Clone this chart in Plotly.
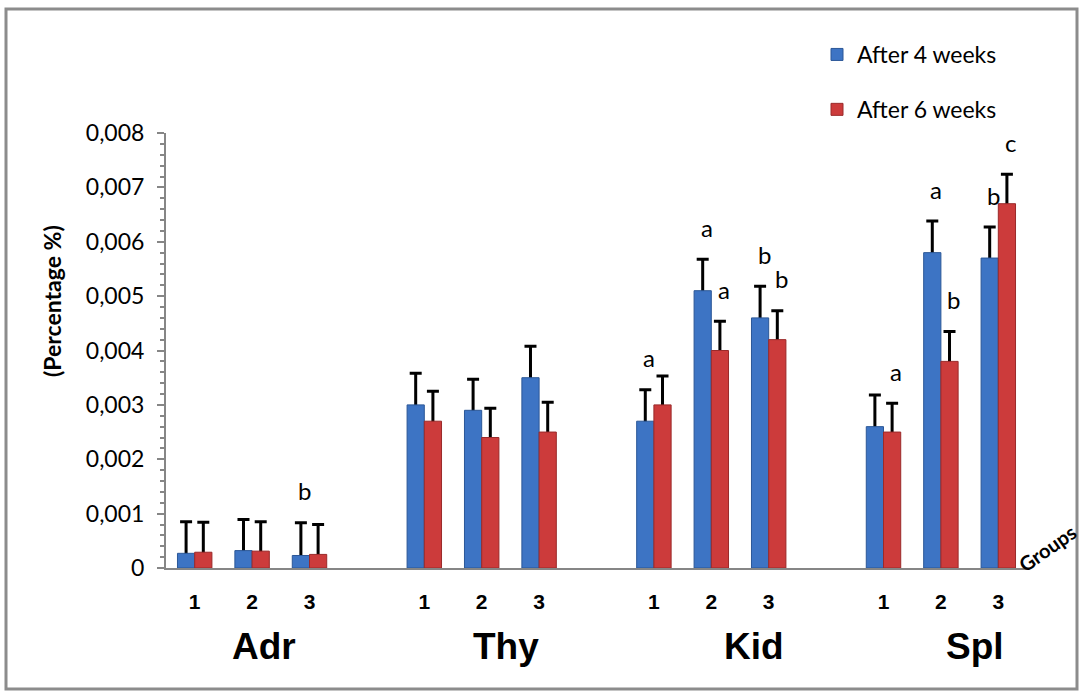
import plotly.graph_objects as go

# Relative organ weights (percentage of body weight) per group
organs = ["Adr", "Thy", "Kid", "Spl"]
groups = ["1", "2", "3"]

after_4_weeks = [0.00027, 0.00032, 0.00023,
                 0.0030, 0.0029, 0.0035,
                 0.0027, 0.0051, 0.0046,
                 0.0026, 0.0058, 0.0057]
after_6_weeks = [0.00029, 0.00031, 0.00025,
                 0.0027, 0.0024, 0.0025,
                 0.0030, 0.0040, 0.0042,
                 0.0025, 0.0038, 0.0067]
sd_4_weeks = [0.00058, 0.00057, 0.00060,
              0.00058, 0.00057, 0.00058,
              0.00058, 0.00058, 0.00058,
              0.00058, 0.00058, 0.00057]
sd_6_weeks = [0.00055, 0.00054, 0.00055,
              0.00055, 0.00054, 0.00055,
              0.00053, 0.00054, 0.00053,
              0.00053, 0.00055, 0.00054]

# significance letters
letters_4_weeks = ["", "", "b", "", "", "", "a", "a", "b", "", "a", "b"]
letters_6_weeks = ["", "", "", "", "", "", "", "a", "b", "a", "b", "c"]

y_tick_values = [0, 0.001, 0.002, 0.003, 0.004, 0.005, 0.006, 0.007, 0.008]
y_tick_labels = ["0", "0,001", "0,002", "0,003", "0,004", "0,005", "0,006", "0,007", "0,008"]

series_names = ["After 4 weeks", "After 6 weeks"]
series_colors = ["#3d74c4", "#cc3b3b"]
series_edges = ["#2b5797", "#9a2a2a"]

# page geometry helpers (plot area spans 166..1027 px horizontally, 133..568 px vertically)
W, H = 1084, 697
L, R, T, B = 166, 57, 133, 129
PW, PH = W - L - R, H - T - B


def px(x):
    return (x - L) / PW


def py(y):
    return (H - B - y) / PH


# category slots: one per organ/group, with a blank slot between organs
categories = []
real_categories = []
for i, organ in enumerate(organs):
    if i:
        categories.append(" " * i)
    for g in groups:
        name = f"{organ} {g}"
        categories.append(name)
        real_categories.append(name)


def spread(values):
    lookup = dict(zip(real_categories, values))
    return [lookup.get(c) for c in categories]


values = [after_4_weeks, after_6_weeks]
errors = [sd_4_weeks, sd_6_weeks]
letters = [letters_4_weeks, letters_6_weeks]

fig = go.Figure()

# error bars on the base axes, so the bars of the overlaid axes cover their lower half
for k in range(2):
    fig.add_trace(go.Bar(
        x=categories, y=spread(values[k]),
        marker=dict(color="rgba(0,0,0,0)", line=dict(width=0)),
        error_y=dict(type="data", symmetric=False,
                     array=spread(errors[k]), arrayminus=spread(values[k]),
                     color="black", thickness=3, width=6),
        showlegend=False, hoverinfo="skip", xaxis="x", yaxis="y",
    ))

# the bars themselves
for k in range(2):
    fig.add_trace(go.Bar(
        x=categories, y=spread(values[k]), name=series_names[k],
        legendgroup=series_names[k],
        marker=dict(color=series_colors[k], line=dict(color=series_edges[k], width=1)),
        xaxis="x2", yaxis="y2",
    ))

annotations = []

# significance letters above the error bars
for k in range(2):
    shift = (-8.6 if k == 0 else 8.6) + 4
    for cat, v, e, letter in zip(real_categories, values[k], errors[k], letters[k]):
        if not letter:
            continue
        annotations.append(dict(
            x=cat, y=v + e, xref="x", yref="y", text=letter, showarrow=False,
            xshift=shift, yshift=32, yanchor="middle",
            font=dict(family="Lato", size=24, color="black"),
        ))

# organ names under the group numbers
organ_label_x = [264, 506, 754, 975]
for organ, xc in zip(organs, organ_label_x):
    annotations.append(dict(
        x=px(xc), y=py(646), xref="paper", yref="paper", text=organ, showarrow=False,
        xanchor="center", yanchor="middle",
        font=dict(family="Liberation Sans", size=37, color="black", weight="bold"),
    ))

annotations.append(dict(
    x=px(1047), y=py(548), xref="paper", yref="paper", text="Groups", showarrow=False,
    textangle=-35, xanchor="center", yanchor="middle",
    font=dict(family="Lato", size=20, color="black", weight="bold"),
))

annotations.append(dict(
    x=px(52), y=py(301), xref="paper", yref="paper", text="(Percentage %)", showarrow=False,
    textangle=-90, xanchor="center", yanchor="middle",
    font=dict(family="Lato", size=23, color="black", weight="bold"),
))

axis_grey = "#868686"

fig.update_layout(
    width=W, height=H, autosize=False,
    margin=dict(l=L, r=R, t=T, b=B, pad=0),
    paper_bgcolor="white", plot_bgcolor="rgba(0,0,0,0)",
    barmode="group", bargap=0.4, bargroupgap=0,
    showlegend=True,
    legend=dict(
        x=px(817), y=py(33), xanchor="left", yanchor="top",
        font=dict(family="Lato", size=23, color="black"),
        tracegroupgap=22, bgcolor="rgba(0,0,0,0)",
    ),
    xaxis=dict(
        type="category", categoryorder="array", categoryarray=categories,
        tickvals=real_categories, ticktext=groups * len(organs),
        tickfont=dict(family="Liberation Sans", size=21, color="black", weight="bold"),
        ticks="", ticklabelstandoff=14,
        showline=True, linecolor=axis_grey, linewidth=2,
        showgrid=False, zeroline=False, fixedrange=True,
    ),
    yaxis=dict(
        range=[0, 0.008], tickvals=y_tick_values, ticktext=y_tick_labels,
        tickfont=dict(family="Lato", size=23, color="black"),
        ticks="outside", ticklen=7, tickcolor=axis_grey, tickwidth=1.5,
        ticklabelstandoff=8,
        minor=dict(dtick=0.0002, ticks="outside", ticklen=4, tickcolor=axis_grey, tickwidth=1.5),
        showline=True, linecolor=axis_grey, linewidth=2,
        showgrid=False, zeroline=False, fixedrange=True,
    ),
    xaxis2=dict(type="category", categoryorder="array", categoryarray=categories,
                overlaying="x", matches="x", visible=False),
    yaxis2=dict(range=[0, 0.008], overlaying="y", matches="y", visible=False),
    annotations=annotations,
    shapes=[dict(
        type="rect", xref="paper", yref="paper",
        x0=px(6), x1=px(1077), y0=py(689), y1=py(9),
        line=dict(color="#8c8c8c", width=3), fillcolor="rgba(0,0,0,0)", layer="below",
    )],
)

fig.write_html("out.html")
